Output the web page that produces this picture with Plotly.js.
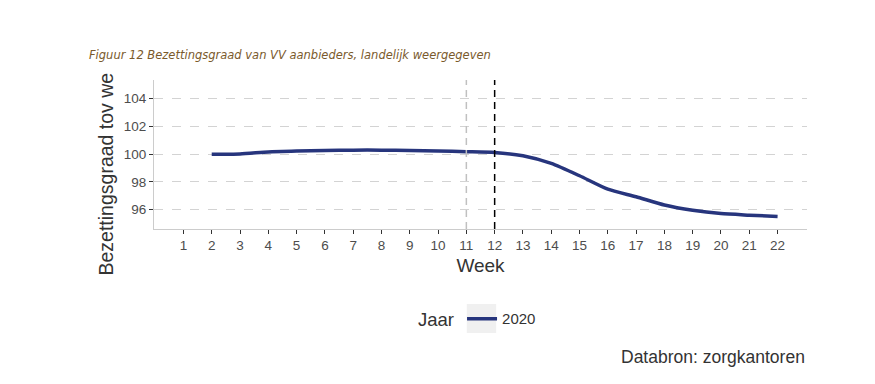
<!DOCTYPE html>
<html>
<head>
<meta charset="utf-8">
<script src="https://cdn.plot.ly/plotly-3.0.1.min.js"></script>
<style>html,body{margin:0;padding:0;background:#fff;}</style>
</head>
<body>
<div id="chart" style="width:875px;height:384px;"></div>
<script>
const weeks = [2,3,4,5,6,7,8,9,10,11,12,13,14,15,16,17,18,19,20,21,22];
const occupancy2020 = [100.0,100.02,100.16,100.22,100.26,100.29,100.29,100.27,100.23,100.18,100.12,99.88,99.33,98.44,97.47,96.93,96.33,95.95,95.71,95.6,95.5];
const seriesName = "2020";
const tickWeeks = [1,2,3,4,5,6,7,8,9,10,11,12,13,14,15,16,17,18,19,20,21,22];
const yTicks = [96,98,100,102,104];
const refWeeks = [11,12];
const refColors = ["#c0c0c0","#000000"];

const trace = {
  x: weeks, y: occupancy2020, type: "scatter", mode: "lines", name: seriesName,
  line: {color: "#27357d", width: 3.5, shape: "spline", smoothing: 0.6},
  hoverinfo: "x+y"
};

const shapes = refWeeks.map((w,i)=>({
  type: "line", xref: "x", yref: "paper", x0: w, x1: w, y0: 0, y1: 1,
  line: {color: refColors[i], width: 1.5, dash: "7px,5px"}, layer: "above"
}));
shapes.push({type:"rect", xref:"paper", yref:"paper", x0:0.479, x1:0.524, y0:-0.698, y1:-0.503,
  fillcolor:"#f0f0f0", line:{width:0}, layer:"below"});

const layout = {
  width: 875, height: 384,
  margin: {l:154, r:68, t:80, b:155},
  paper_bgcolor: "#fff", plot_bgcolor: "#fff",
  font: {family: "Liberation Sans, Arial, sans-serif", color: "#4d4d4d"},
  showlegend: true,
  legend: {orientation: "h", x: 0.497, xanchor: "center", y: -0.61, yanchor: "middle",
    title: {text: "Jaar", font: {size: 18.5, color: "#333"}}, font: {size: 15, color: "#333"},
    itemwidth: 30, bgcolor: "rgba(0,0,0,0)"},
  xaxis: {
    range: [-0.04, 23.04], tickmode: "array", tickvals: tickWeeks, ticktext: tickWeeks.map(String),
    showgrid: false, zeroline: false, showline: true, linecolor: "#cccccc", linewidth: 1,
    ticks: "outside", ticklen: 4, tickcolor: "#333", tickfont: {size: 13.5, color: "#4d4d4d"},
    title: {text: "Week", font: {size: 19, color: "#333"}, standoff: 6}
  },
  yaxis: {
    range: [94.6, 105.35], tickmode: "array", tickvals: yTicks, ticktext: yTicks.map(String),
    showgrid: true, gridcolor: "#d3d3d3", griddash: "dash", gridwidth: 1,
    zeroline: false, showline: true, linecolor: "#cccccc", linewidth: 1,
    ticks: "outside", ticklen: 4, tickcolor: "#333", tickfont: {size: 13.5, color: "#4d4d4d"}
  },
  shapes: shapes,
  annotations: [
    {text: "<i>Figuur 12 Bezettingsgraad van VV aanbieders, landelijk weergegeven</i>",
     xref: "paper", yref: "paper", x: (87-154)/653, y: (229-55)/149, xanchor: "left", yanchor: "middle",
     showarrow: false, font: {family: "DejaVu Sans, Verdana, sans-serif", size: 11.5, color: "#7a5a2c"}},
    {text: "Bezettingsgraad tov we", xref: "paper", yref: "paper", x: (105-154)/653, y: (229-278)/149,
     xanchor: "center", yanchor: "bottom", textangle: -90, showarrow: false,
     font: {size: 19.5, color: "#333"}},
    {text: "Databron: zorgkantoren", xref: "paper", yref: "paper", x: 1, y: (229-357)/149,
     xanchor: "right", yanchor: "middle", showarrow: false, font: {size: 17.5, color: "#333"}}
  ]
};

Plotly.newPlot("chart", [trace], layout, {displayModeBar: false, staticPlot: true});
</script>
</body>
</html>
